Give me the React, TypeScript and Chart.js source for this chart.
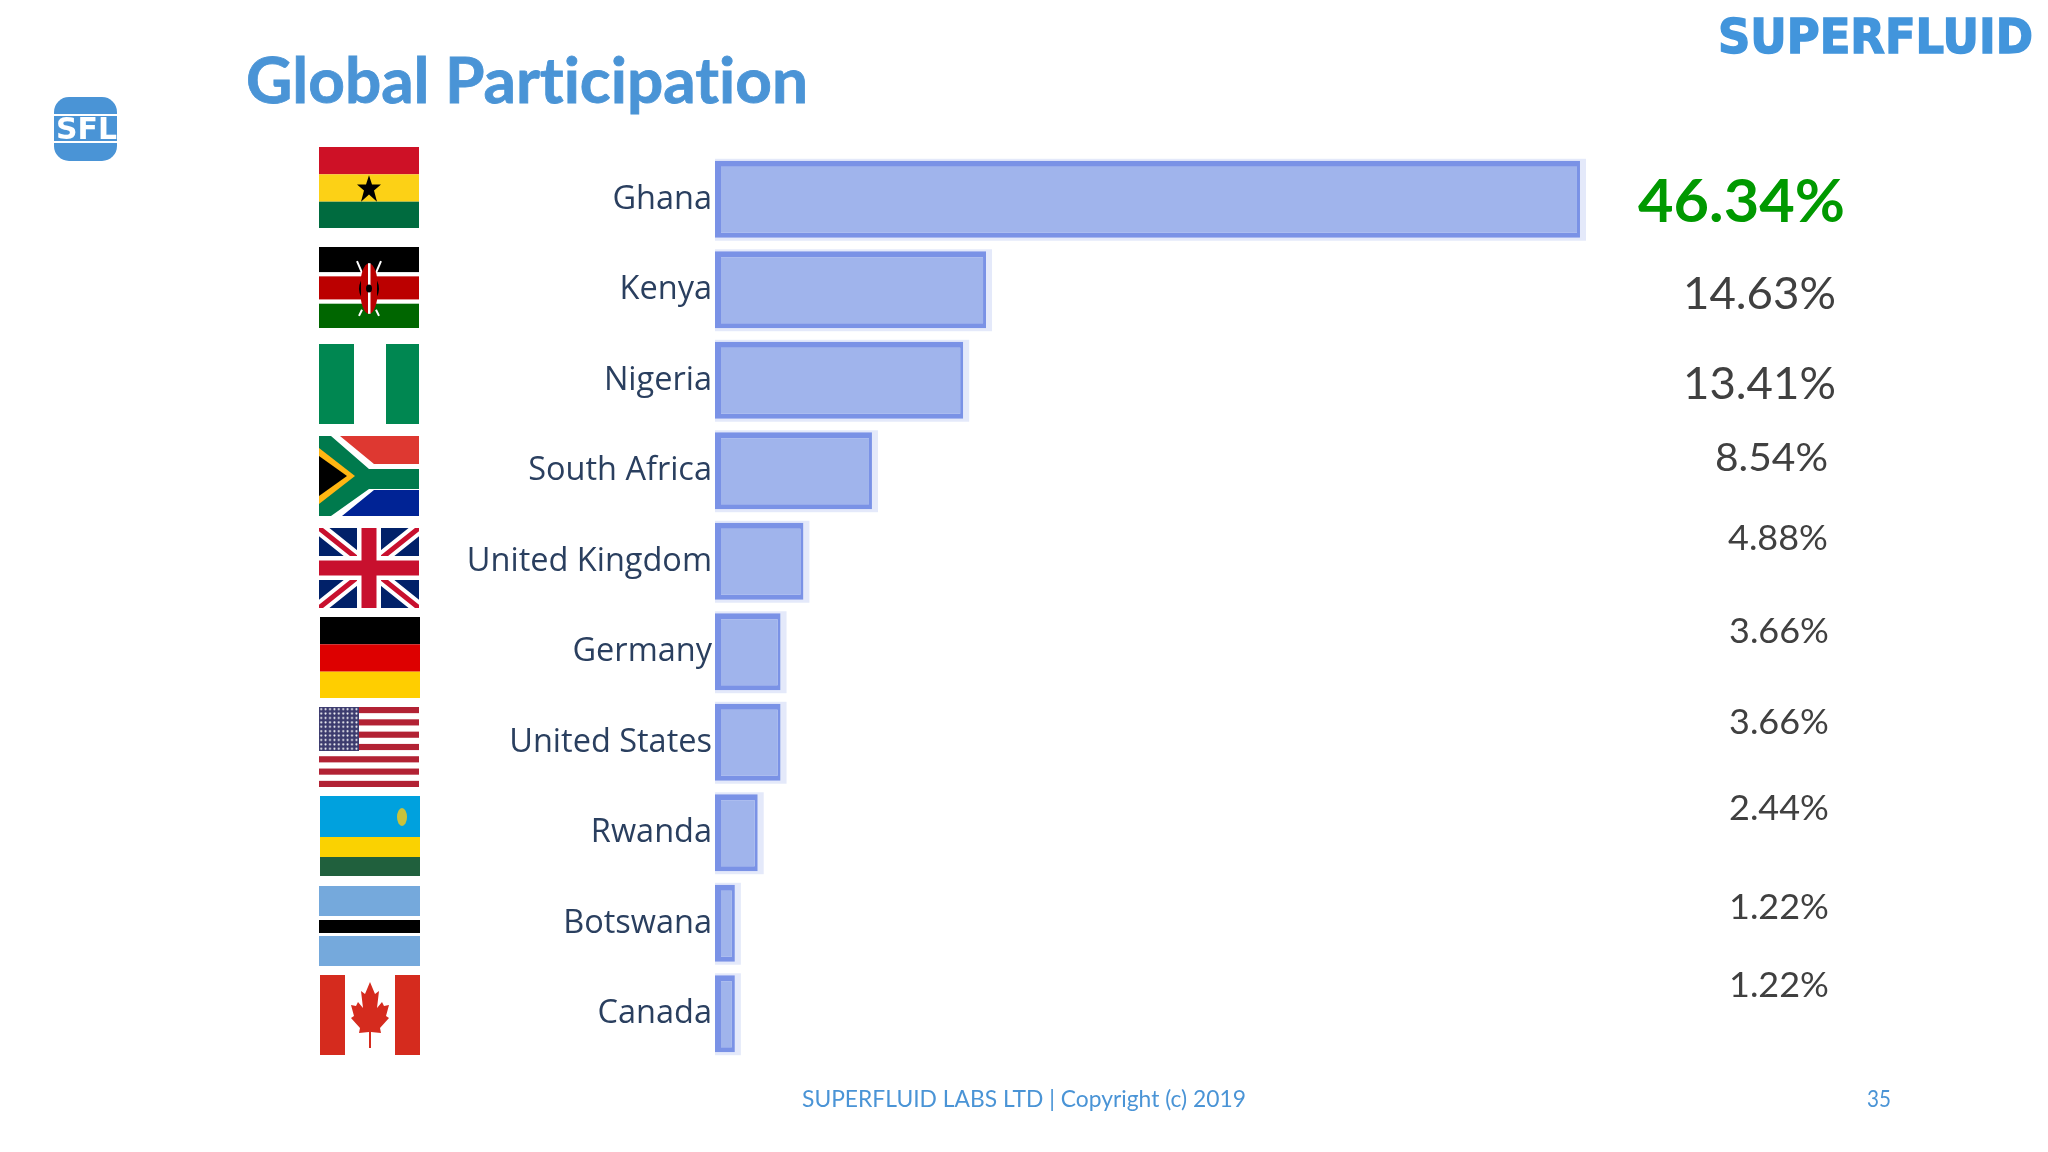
import React, { useEffect, useRef } from 'react';
import { Chart } from 'chart.js/auto';

const countries = ['Ghana', 'Kenya', 'Nigeria', 'South Africa', 'United Kingdom', 'Germany', 'United States', 'Rwanda', 'Botswana', 'Canada'];
const shares = [46.34, 14.63, 13.41, 8.54, 4.88, 3.66, 3.66, 2.44, 1.22, 1.22];

const LABEL_FONT = '"Open Sans", sans-serif';
const SLIDE_FONT = 'Lato, sans-serif';
const BLUE = '#4a94d6';
// the visible bars start a little after zero on the slide
const AXIS_MIN = 0.16;

// the share labels on the slide are placed by hand, not aligned to the bars
const shareLabelPos = [
  { x: 1638, y: 222, w: 207, size: 60 },
  { x: 1683, y: 309, w: 153, size: 44 },
  { x: 1683, y: 399, w: 153, size: 44 },
  { x: 1715, y: 471, w: 113, size: 39 },
  { x: 1728, y: 550, w: 100, size: 35 },
  { x: 1729, y: 643, w: 100, size: 35 },
  { x: 1729, y: 734, w: 100, size: 35 },
  { x: 1729, y: 820, w: 100, size: 35 },
  { x: 1729, y: 919, w: 100, size: 35 },
  { x: 1729, y: 997, w: 100, size: 35 },
];

const flagBoxes = [
  { x: 319, y: 147, w: 100, h: 81 },
  { x: 319, y: 247, w: 100, h: 81 },
  { x: 319, y: 344, w: 100, h: 80 },
  { x: 319, y: 436, w: 100, h: 80 },
  { x: 319, y: 528, w: 100, h: 80 },
  { x: 320, y: 617, w: 100, h: 81 },
  { x: 319, y: 707, w: 100, h: 80 },
  { x: 320, y: 796, w: 100, h: 80 },
  { x: 319, y: 886, w: 101, h: 80 },
  { x: 320, y: 975, w: 100, h: 80 },
];

const usStripes = [0, 2, 4, 6, 8, 10, 12];

const flags: React.ReactNode[] = [
  <g key="gh">
    <rect width="100" height="27" fill="#ce1126" />
    <rect y="27" width="100" height="27" fill="#fcd116" />
    <rect y="54" width="100" height="26" fill="#006b3f" />
    <polygon points="50,28 53,37 62,37 55,43 58,54 50,47 42,54 45,43 38,37 47,37" fill="#000" />
  </g>,
  <g key="ke">
    <rect width="100" height="25" fill="#000" />
    <rect y="25" width="100" height="5" fill="#fff" />
    <rect y="29" width="100" height="23" fill="#bb0000" />
    <rect y="52" width="100" height="5" fill="#fff" />
    <rect y="56" width="100" height="24" fill="#006600" />
    <path d="M38 14 L45 30 M62 14 L55 30 M40 68 L43 62 M60 68 L57 62" stroke="#fff" strokeWidth="2" />
    <ellipse cx="50" cy="41" rx="9" ry="25" fill="#bb0000" />
    <path d="M42 33 Q38 41 42 49 Z M58 33 Q62 41 58 49 Z" fill="#000" />
    <rect x="49" y="16" width="2.5" height="50" fill="#fff" />
    <ellipse cx="50" cy="41" rx="3" ry="4" fill="#000" />
  </g>,
  <g key="ng">
    <rect width="100" height="80" fill="#fff" />
    <rect width="35" height="80" fill="#008751" />
    <rect x="67" width="33" height="80" fill="#008751" />
  </g>,
  <g key="za">
    <rect width="100" height="40" fill="#de3831" />
    <rect y="40" width="100" height="40" fill="#002395" />
    <polygon points="0,0 21,0 55,28 100,28 100,54 55,54 23,80 0,80" fill="#fff" />
    <polygon points="0,0 12,0 50,33 100,33 100,53 50,53 12,80 0,80" fill="#007a4d" />
    <polygon points="0,12 36,40 0,68" fill="#ffb612" />
    <polygon points="0,20 28,40 0,60" fill="#000" />
  </g>,
  <g key="uk">
    <rect width="100" height="80" fill="#012169" />
    <path d="M0 0 L100 80 M100 0 L0 80" stroke="#fff" strokeWidth="13" />
    <path d="M0 0 L100 80 M100 0 L0 80" stroke="#c8102e" strokeWidth="5" />
    <path d="M50 0 V80 M0 40 H100" stroke="#fff" strokeWidth="24" />
    <path d="M50 0 V80 M0 40 H100" stroke="#c8102e" strokeWidth="15" />
  </g>,
  <g key="de">
    <rect width="100" height="27" fill="#000" />
    <rect y="27" width="100" height="27" fill="#dd0000" />
    <rect y="54" width="100" height="26" fill="#ffce00" />
  </g>,
  <g key="us">
    <rect width="100" height="80" fill="#fff" />
    {usStripes.map((i) => (
      <rect key={i} y={(i * 80) / 13} width="100" height={80 / 13} fill="#b22234" />
    ))}
    <rect width="40" height="44" fill="#3c3b6e" />
    <rect width="40" height="44" fill="url(#usStars)" />
  </g>,
  <g key="rw">
    <rect width="100" height="41" fill="#00a1de" />
    <rect y="41" width="100" height="20" fill="#fad201" />
    <rect y="61" width="100" height="19" fill="#20603d" />
    <ellipse cx="82" cy="21" rx="5" ry="9" fill="#c9c23a" />
  </g>,
  <g key="bw">
    <rect width="100" height="80" fill="#75a9dc" />
    <rect y="30" width="100" height="20" fill="#fff" />
    <rect y="34" width="100" height="13" fill="#000" />
  </g>,
  <g key="ca">
    <rect width="100" height="80" fill="#fff" />
    <rect width="25" height="80" fill="#d52b1e" />
    <rect x="75" width="25" height="80" fill="#d52b1e" />
    <path
      d="M50 7 L55 19 L59 16 L57 33 L62 27 L64 31 L69 30 L66 41 L69 43 L60 53 L61 58 L51 57 L51 73 L49 73 L49 57 L39 58 L40 53 L31 43 L34 41 L31 30 L36 31 L38 27 L43 33 L41 16 L45 19 Z"
      fill="#d52b1e"
    />
  </g>,
];

// pale edge around each bar, taken from the bar elements themselves
const barHalo = {
  id: 'barHalo',
  beforeDatasetsDraw(chart: any) {
    const { ctx } = chart;
    ctx.save();
    ctx.fillStyle = '#e4e9fa';
    chart.getDatasetMeta(0).data.forEach((bar: any) => {
      ctx.fillRect(bar.base, bar.y - bar.height / 2 - 2, bar.x - bar.base + 6, bar.height + 5);
    });
    ctx.restore();
  },
};

export default function App() {
  const canvasRef = useRef<HTMLCanvasElement>(null);

  useEffect(() => {
    document.body.style.margin = '0';
    document.body.style.background = '#fff';
    if (!canvasRef.current) return;

    const chart = new Chart(canvasRef.current, {
      type: 'bar',
      data: {
        labels: countries,
        datasets: [
          {
            data: shares,
            base: AXIS_MIN,
            backgroundColor: '#a0b4ec',
            borderColor: '#7a92e6',
            borderWidth: { top: 6, bottom: 5, left: 6, right: 3 },
            borderSkipped: false,
            barPercentage: 0.85,
            categoryPercentage: 1,
          },
        ],
      },
      options: {
        indexAxis: 'y',
        responsive: false,
        animation: false,
        layout: { padding: { top: 154, bottom: 93, left: 0, right: 362 } },
        plugins: { legend: { display: false }, tooltip: { enabled: false } },
        scales: {
          x: { display: false, min: AXIS_MIN, max: 52 },
          y: {
            afterFit: (scale: any) => {
              scale.width = 715;
            },
            grid: { display: false, drawTicks: false },
            border: { display: false },
            ticks: {
              padding: 3,
              color: '#2a3f5f',
              font: { family: LABEL_FONT, size: 32.5 },
              autoSkip: false,
            },
          },
        },
      },
      plugins: [barHalo],
    });

    return () => chart.destroy();
  }, []);

  return (
    <div style={{ position: 'relative', width: 2048, height: 1152, overflow: 'hidden' }}>
      <canvas ref={canvasRef} width={2048} height={1152} style={{ position: 'absolute', left: 0, top: 0 }} />
      <svg width={2048} height={1152} style={{ position: 'absolute', left: 0, top: 0, fontVariantLigatures: 'none' }}>
        <defs>
          <pattern id="usStars" width="4.4" height="4.4" patternUnits="userSpaceOnUse">
            <circle cx="2.2" cy="2.2" r="1" fill="#fff" />
          </pattern>
        </defs>

        <text x={246} y={103} textLength={562} lengthAdjust="spacingAndGlyphs" fill={BLUE} stroke={BLUE} strokeWidth={0.8} fontFamily={SLIDE_FONT} fontWeight={700} fontSize={63}>
          Global Participation
        </text>

        <rect x={54} y={97} width={63} height={64} rx={15} fill={BLUE} />
        <rect x={54} y={114} width={64} height={29} fill="#fff" />
        <rect x={54} y={116} width={63} height={25} fill={BLUE} />
        <text x={56} y={139} textLength={61} lengthAdjust="spacingAndGlyphs" fill="#fff" fontFamily="DejaVu Sans" fontWeight={700} fontSize={30}>
          SFL
        </text>

        <text x={1718} y={53} textLength={315} lengthAdjust="spacingAndGlyphs" fill="#4295dc" stroke="#4295dc" strokeWidth={1.5} fontFamily="DejaVu Sans" fontWeight={700} fontSize={48}>
          SUPERFLUID
        </text>

        {flags.map((flag, i) => {
          const box = flagBoxes[i];
          return (
            <svg key={i} x={box.x} y={box.y} width={box.w} height={box.h} viewBox="0 0 100 80" preserveAspectRatio="none">
              {flag}
            </svg>
          );
        })}

        {shares.map((share, i) => {
          const pos = shareLabelPos[i];
          return (
            <text
              key={i}
              x={pos.x}
              y={pos.y}
              textLength={pos.w}
              lengthAdjust="spacingAndGlyphs"
              fill={i === 0 ? '#009900' : '#404040'}
              fontFamily={SLIDE_FONT}
              fontWeight={i === 0 ? 700 : 400}
              fontSize={pos.size}
            >
              {share.toFixed(2)}%
            </text>
          );
        })}

        <text x={802} y={1107} textLength={444} lengthAdjust="spacingAndGlyphs" fill={BLUE} fontFamily={SLIDE_FONT} fontSize={23}>
          SUPERFLUID LABS LTD | Copyright (c) 2019
        </text>
        <text x={1867} y={1107} textLength={24} lengthAdjust="spacingAndGlyphs" fill={BLUE} fontFamily={SLIDE_FONT} fontSize={23}>
          35
        </text>
      </svg>
    </div>
  );
}
